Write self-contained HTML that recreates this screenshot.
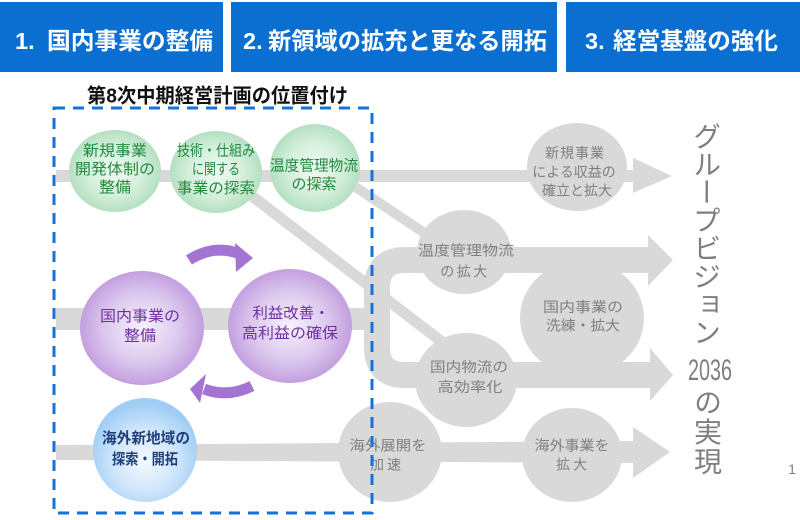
<!DOCTYPE html>
<html>
<head>
<meta charset="utf-8">
<style>
html,body{margin:0;padding:0;background:#fff;}
#wrap{position:relative;width:800px;height:520px;overflow:hidden;background:#fff;}
svg{position:absolute;left:0;top:0;}
.vt{position:absolute;writing-mode:vertical-rl;font-family:"Liberation Sans","Noto Sans CJK JP",sans-serif;font-size:28px;line-height:28px;color:#7f7f7f;white-space:nowrap;}
</style>
</head>
<body>
<div id="wrap">
<svg width="800" height="520" viewBox="0 0 800 520" xmlns="http://www.w3.org/2000/svg" font-family="'Liberation Sans','Noto Sans CJK JP',sans-serif">
  <defs>
    <radialGradient id="gG" cx="50%" cy="50%" r="50%">
      <stop offset="0" stop-color="#f0faf3"/>
      <stop offset="0.6" stop-color="#d4efdc"/>
      <stop offset="1" stop-color="#b4e0c1"/>
    </radialGradient>
    <radialGradient id="gP" cx="50%" cy="50%" r="50%">
      <stop offset="0" stop-color="#f7f1fc"/>
      <stop offset="0.6" stop-color="#dcc9ee"/>
      <stop offset="1" stop-color="#c39fdf"/>
    </radialGradient>
    <radialGradient id="gB" cx="50%" cy="60%" r="55%">
      <stop offset="0" stop-color="#f4faff"/>
      <stop offset="0.55" stop-color="#cfe6fb"/>
      <stop offset="1" stop-color="#9fcdf4"/>
    </radialGradient>
  </defs>

  <!-- header boxes -->
  <rect x="0" y="2" width="223" height="70" fill="#0b6fd1"/>
  <rect x="231" y="2" width="326" height="70" fill="#0b6fd1"/>
  <rect x="566" y="2" width="234" height="70" fill="#0b6fd1"/>
  <g fill="#ffffff" font-size="23.5" font-weight="bold">
    <text x="15" y="49">1.</text>
    <text x="47" y="49" textLength="166" lengthAdjust="spacingAndGlyphs">国内事業の整備</text>
    <text x="243" y="49">2.</text>
    <text x="268" y="49" textLength="279" lengthAdjust="spacingAndGlyphs">新領域の拡充と更なる開拓</text>
    <text x="585" y="49">3.</text>
    <text x="613" y="49" textLength="165" lengthAdjust="spacingAndGlyphs">経営基盤の強化</text>
  </g>

  <!-- title -->
  <text x="87" y="102.5" font-size="20" font-weight="bold" fill="#111" textLength="261" lengthAdjust="spacingAndGlyphs">第8次中期経営計画の位置付け</text>

  <!-- grey bands -->
  <g fill="#d9d9d9">
    <rect x="56" y="170" width="578" height="12"/>
    <polygon points="633,158 672,176 633,193"/>
    <rect x="56" y="308" width="322" height="22"/>
    <polygon points="648,235 673,260 648,286"/>
    <polygon points="650,348 673,375 650,401"/>
    <polygon points="56,445 634,441 634,463 56,460"/>
    <polygon points="633,427 670,452 633,478"/>
  </g>
  <path d="M652,260 H405 Q377,260 377,288 V347 Q377,375 405,375 H652" fill="none" stroke="#d9d9d9" stroke-width="26"/>
  <!-- diagonal lines -->
  <line x1="345" y1="180" x2="432" y2="238" stroke="#d9d9d9" stroke-width="10"/>
  <line x1="248" y1="193" x2="446" y2="345" stroke="#d9d9d9" stroke-width="11"/>

  <!-- grey circles -->
  <g fill="#d9d9d9">
    <ellipse cx="577" cy="167" rx="50" ry="44"/>
    <ellipse cx="464" cy="252" rx="47" ry="42"/>
    <ellipse cx="582" cy="318" rx="62" ry="58"/>
    <ellipse cx="466" cy="380" rx="51" ry="47"/>
    <ellipse cx="390" cy="452" rx="52" ry="50"/>
    <ellipse cx="572" cy="455" rx="50" ry="47"/>
  </g>
  <g fill="#7f7f7f" font-size="14" text-anchor="middle">
    <text x="575" y="158" letter-spacing="1">新規事業</text>
    <text x="574" y="177">による収益の</text>
    <text x="577" y="195.5">確立と拡大</text>
    <text x="466" y="255.5" textLength="96" lengthAdjust="spacingAndGlyphs">温度管理物流</text>
    <text x="465" y="276.5" letter-spacing="2.5">の拡大</text>
    <text x="583" y="312" textLength="80" lengthAdjust="spacingAndGlyphs">国内事業の</text>
    <text x="583" y="330.5" textLength="74" lengthAdjust="spacingAndGlyphs">洗練・拡大</text>
    <text x="469" y="372" textLength="78" lengthAdjust="spacingAndGlyphs">国内物流の</text>
    <text x="470" y="392" textLength="65" lengthAdjust="spacingAndGlyphs">高効率化</text>
    <text x="388" y="450.5" textLength="77" lengthAdjust="spacingAndGlyphs">海外展開を</text>
    <text x="387" y="469.5" letter-spacing="3">加速</text>
    <text x="572" y="450.5" textLength="75" lengthAdjust="spacingAndGlyphs">海外事業を</text>
    <text x="573" y="469.5" letter-spacing="3">拡大</text>
  </g>

  <!-- green circles -->
  <ellipse cx="115" cy="171" rx="46" ry="41" fill="url(#gG)"/>
  <ellipse cx="216" cy="172" rx="46" ry="41" fill="url(#gG)"/>
  <ellipse cx="315" cy="168" rx="45" ry="44" fill="url(#gG)"/>
  <g fill="#23893f" font-size="15" text-anchor="middle">
    <text x="115" y="155.7" textLength="64" lengthAdjust="spacingAndGlyphs">新規事業</text>
    <text x="115" y="174.2" textLength="80" lengthAdjust="spacingAndGlyphs">開発体制の</text>
    <text x="115" y="192.2" textLength="32" lengthAdjust="spacingAndGlyphs">整備</text>
    <text x="216" y="155.7" textLength="78" lengthAdjust="spacingAndGlyphs">技術・仕組み</text>
    <text x="216" y="174.2" textLength="48" lengthAdjust="spacingAndGlyphs">に関する</text>
    <text x="216" y="193" textLength="78" lengthAdjust="spacingAndGlyphs">事業の探索</text>
    <text x="314" y="170.5" textLength="88" lengthAdjust="spacingAndGlyphs">温度管理物流</text>
    <text x="314" y="189" textLength="45" lengthAdjust="spacingAndGlyphs">の探索</text>
  </g>

  <!-- purple circles -->
  <ellipse cx="142" cy="328" rx="62" ry="57" fill="url(#gP)"/>
  <ellipse cx="290" cy="326" rx="62" ry="57" fill="url(#gP)"/>
  <g fill="#7030a0" font-size="15" text-anchor="middle">
    <text x="140" y="321" textLength="80" lengthAdjust="spacingAndGlyphs">国内事業の</text>
    <text x="140" y="340.5" textLength="32" lengthAdjust="spacingAndGlyphs">整備</text>
    <text x="291" y="318" textLength="77" lengthAdjust="spacingAndGlyphs">利益改善・</text>
    <text x="290" y="338" textLength="96" lengthAdjust="spacingAndGlyphs">高利益の確保</text>
  </g>
  <!-- purple arrows -->
  <g fill="#a474d2">
    <path d="M189,260 Q214,244 240,254" fill="none" stroke="#a474d2" stroke-width="11"/>
    <polygon points="235,243 253,258 236,272"/>
    <path d="M252,386 Q228,398 204,389" fill="none" stroke="#a474d2" stroke-width="11"/>
    <polygon points="206,374 190,389 200,403"/>
  </g>

  <!-- blue circle -->
  <ellipse cx="145" cy="450" rx="52" ry="52" fill="url(#gB)"/>
  <g fill="#1f3f7a" font-size="15" font-weight="bold" text-anchor="middle">
    <text x="146" y="443" textLength="88" lengthAdjust="spacingAndGlyphs">海外新地域の</text>
    <text x="145" y="464" textLength="66" lengthAdjust="spacingAndGlyphs">探索・開拓</text>
  </g>

  <!-- dashed box -->
  <rect x="54" y="108" width="318" height="405" fill="none" stroke="#1472d8" stroke-width="3" stroke-dasharray="11 8"/>

  <!-- 2036 -->
  <text x="688" y="380" font-size="30" fill="#7f7f7f" textLength="44" lengthAdjust="spacingAndGlyphs">2036</text>
  <!-- page number -->
  <text x="792" y="474" font-size="14" fill="#7f7f7f" text-anchor="middle">1</text>
</svg>
<div class="vt" style="left:691px;top:122px;">グループビジョン</div>
<div class="vt" style="left:692px;top:388px;letter-spacing:1.5px;">の実現</div>
</div>
</body>
</html>
